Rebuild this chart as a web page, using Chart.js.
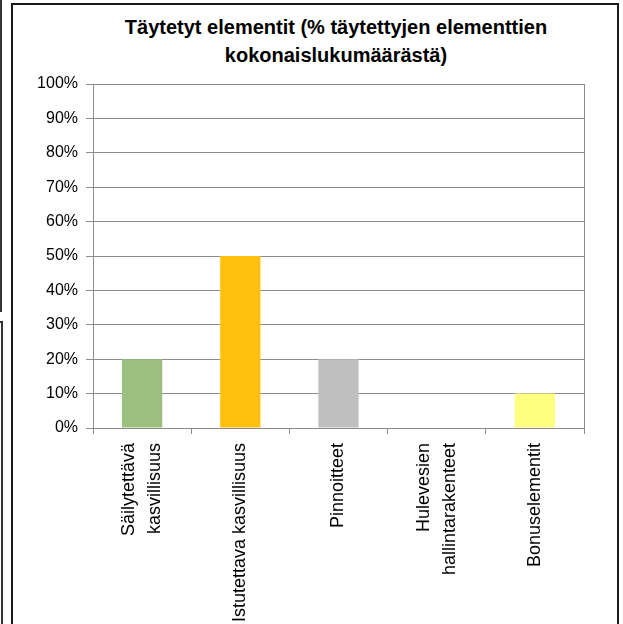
<!DOCTYPE html>
<html>
<head>
<meta charset="utf-8">
<script src="https://cdn.jsdelivr.net/npm/chart.js@4"></script>
<style>
  html, body { margin: 0; padding: 0; background: #fff; overflow: hidden; }
  body { width: 623px; height: 624px; position: relative; }
  .frame { position: absolute; left: 11px; top: 3px; width: 604px; height: 640px; border: 2px solid #1a1a1a; border-bottom: none; }
  .side1 { position: absolute; left: 0; top: 0; width: 2px; height: 312px; background: #333; }
  .side2 { position: absolute; left: 0; top: 321px; width: 3px; height: 303px; border-top: 2px solid #333; border-right: 2px solid #333; box-sizing: border-box; }
  .title { position: absolute; left: 0; top: 13px; width: 672px; text-align: center;
           font: bold 20px/28px "Liberation Sans", Arial, sans-serif; color: #000; }
  #chart { position: absolute; left: 13px; top: 5px; }
</style>
</head>
<body>
<div class="side1"></div>
<div class="side2"></div>
<div class="frame"></div>
<div class="title" id="title"></div>
<canvas id="chart" width="604" height="619"></canvas>
<script>
const titleLines = ['Täytetyt elementit (% täytettyjen elementtien', 'kokonaislukumäärästä)'];
const categories = [
  ['Säilytettävä', 'kasvillisuus'],
  'Istutettava kasvillisuus',
  'Pinnoitteet',
  ['Hulevesien', 'hallintarakenteet'],
  'Bonuselementit'
];
const shares = [20, 50, 20, 0, 10];
const barColors = ['#9BBF7E', '#FFC010', '#BFBFBF', '#D9D9D9', '#FFFF80'];
const yTicks = [0, 10, 20, 30, 40, 50, 60, 70, 80, 90, 100];

document.getElementById('title').innerHTML = titleLines.join('<br>');

const gridGray = '#8C8C8C';
const xLabelLineHeight = 26;

// right edge of the plot area (Excel draws a box round it)
const plotBorder = {
  id: 'plotBorder',
  afterDraw(chart) {
    const { ctx, chartArea } = chart;
    ctx.save();
    ctx.strokeStyle = gridGray;
    ctx.lineWidth = 1;
    ctx.beginPath();
    ctx.moveTo(Math.round(chartArea.right) + 0.5, chartArea.top);
    ctx.lineTo(Math.round(chartArea.right) + 0.5, chartArea.bottom);
    ctx.stroke();
    ctx.restore();
  }
};

// centre the two-line rotated labels on their category like Excel does
const centerLabels = {
  id: 'centerLabels',
  beforeDraw(chart) {
    const scale = chart.scales.x;
    const items = scale.getLabelItems();
    items.forEach(item => {
      if (Array.isArray(item.label) && !item._centered) {
        item.options.translation[0] -= xLabelLineHeight * (item.label.length - 1) / 2;
        item._centered = true;
      }
    });
  }
};

const ctx = document.getElementById('chart').getContext('2d');
new Chart(ctx, {
  type: 'bar',
  data: {
    labels: categories,
    datasets: [{
      data: shares,
      backgroundColor: barColors,
      borderWidth: 0,
      barPercentage: 0.41,
      categoryPercentage: 1
    }]
  },
  options: {
    responsive: false,
    animation: false,
    layout: { padding: { left: 18, right: 33, top: 79, bottom: 0 } },
    plugins: {
      legend: { display: false },
      tooltip: { enabled: false },
      title: { display: false }
    },
    scales: {
      x: {
        grid: { display: true, drawOnChartArea: false, drawTicks: true, tickLength: 6, color: gridGray, offset: true },
        border: { display: true, color: gridGray, width: 1 },
        ticks: {
          color: '#000',
          font: { family: 'Liberation Sans', size: 18, lineHeight: xLabelLineHeight + 'px' },
          minRotation: 90,
          maxRotation: 90,
          autoSkip: false,
          padding: 9
        },
        afterFit(scale) { scale.height = 196; }
      },
      y: {
        min: 0,
        max: 100,
        afterBuildTicks(scale) { scale.ticks = yTicks.map(v => ({ value: v })); },
        grid: { color: gridGray, tickLength: 7, lineWidth: 1 },
        border: { display: true, color: gridGray, width: 1 },
        ticks: {
          color: '#000',
          font: { family: 'Liberation Sans', size: 16 },
          padding: 8,
          callback: v => v + '%'
        },
        afterFit(scale) { scale.width = 62; }
      }
    }
  },
  plugins: [plotBorder, centerLabels]
});
</script>
</body>
</html>
